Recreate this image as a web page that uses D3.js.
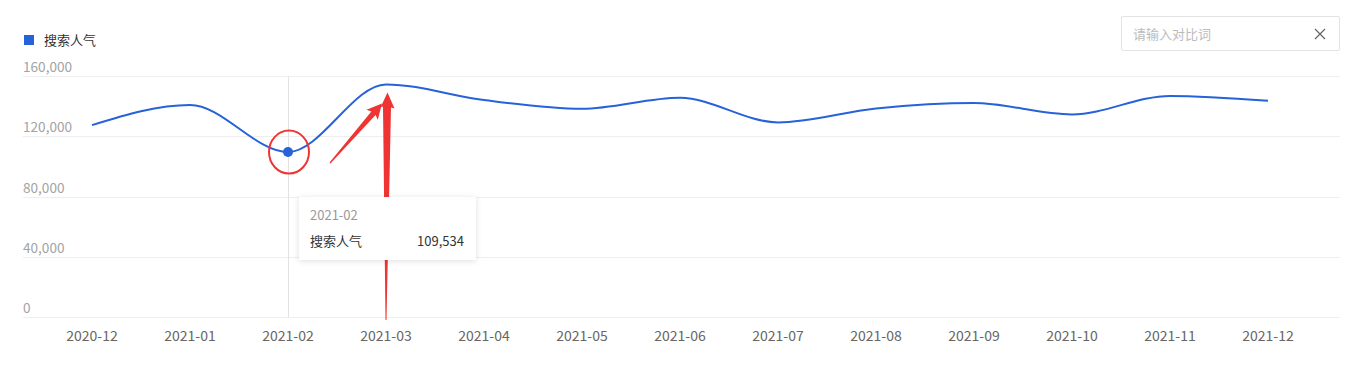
<!DOCTYPE html>
<html>
<head>
<meta charset="utf-8">
<script src="https://cdn.jsdelivr.net/npm/d3@7"></script>
<style>
  body { margin: 0; background: #fff; font-family: "Noto Sans CJK SC", "Noto Sans", sans-serif; }
  #chart { position: relative; width: 1345px; height: 371px; }
  .tip { position: absolute; background: #fff; box-shadow: 0 1px 6px rgba(0,0,0,0.13); font-size: 13px; }
  .search { position: absolute; border: 1px solid #e3e3e3; border-radius: 2px; background: #fff; box-sizing: border-box; font-size: 13px; color: #bbb; }
</style>
</head>
<body>
<div id="chart"></div>
<script>
var months = ["2020-12", "2021-01", "2021-02", "2021-03", "2021-04", "2021-05", "2021-06",
              "2021-07", "2021-08", "2021-09", "2021-10", "2021-11", "2021-12"];
var popularity = [127400, 140800, 109534, 154400, 144000, 138200, 145500,
                  129200, 138400, 142000, 134500, 146800, 143500];
var yTicks = [0, 40000, 80000, 120000, 160000];
var seriesName = "搜索人气";
var hoverIndex = 2;
var placeholder = "请输入对比词";

var W = 1345, H = 371;
var blue = "#2762d9", red = "#ef3434";

var x = d3.scalePoint().domain(months).range([92, 1268]);
var y = d3.scaleLinear().domain([0, 160000]).range([317, 76]);
var fmt = d3.format(",");

var root = d3.select("#chart");
var svg = root.append("svg").attr("width", W).attr("height", H);

// grid lines + y labels
var yg = svg.append("g");
yg.selectAll("line").data(yTicks).enter().append("line")
	.attr("x1", 23).attr("x2", 1340)
	.attr("y1", function(d) { return Math.round(y(d)) + 0.5; })
	.attr("y2", function(d) { return Math.round(y(d)) + 0.5; })
	.attr("stroke", "#eeeeee");
yg.selectAll("text").data(yTicks).enter().append("text")
	.attr("x", 23).attr("y", function(d) { return y(d) - 4; })
	.text(function(d) { return fmt(d); })
	.style("font-size", "13.6px").style("fill", "#a3a3a3");

// x axis labels
svg.append("g").selectAll("text").data(months).enter().append("text")
	.attr("x", function(d) { return x(d); }).attr("y", 341)
	.attr("text-anchor", "middle")
	.text(function(d) { return d; })
	.style("font-size", "14px").style("fill", "#666");

// hover crosshair
svg.append("line")
	.attr("x1", x(months[hoverIndex]) + 0.5).attr("x2", x(months[hoverIndex]) + 0.5)
	.attr("y1", y(160000)).attr("y2", y(0))
	.attr("stroke", "#e2e2e2");

// legend
svg.append("rect").attr("x", 24).attr("y", 35).attr("width", 10).attr("height", 10).attr("fill", blue);
svg.append("text").attr("x", 44).attr("y", 45).text(seriesName)
	.style("font-size", "13px").style("fill", "#333");

// line
var line = d3.line()
	.x(function(d, i) { return x(months[i]); })
	.y(function(d) { return y(d); })
	.curve(d3.curveMonotoneX);
svg.append("path").datum(popularity)
	.attr("d", line)
	.attr("fill", "none").attr("stroke", blue).attr("stroke-width", 2);

// hovered point
var px = x(months[hoverIndex]), py = y(popularity[hoverIndex]);
svg.append("circle").attr("cx", px).attr("cy", py).attr("r", 5).attr("fill", blue);

// red annotations
svg.append("ellipse").attr("cx", px + 1).attr("cy", py).attr("rx", 20).attr("ry", 21.5)
	.attr("fill", "none").attr("stroke", red).attr("stroke-width", 2);

var peakX = x(months[3]), peakY = y(popularity[3]);
var ann = svg.append("g").attr("fill", red);

// diagonal arrow, drawn along +x then rotated
var tail = [px + 42, py + 11], head = [peakX - 4, peakY + 19];
var len = Math.hypot(head[0] - tail[0], head[1] - tail[1]);
var ang = Math.atan2(head[1] - tail[1], head[0] - tail[0]) * 180 / Math.PI;
ann.append("path")
	.attr("transform", "translate(" + tail + ") rotate(" + ang + ")")
	.attr("d", [
		"M", 0, -0.6,
		"L", len - 13, -2.8,
		"L", len - 15, -7.5,
		"L", len, 0,
		"L", len - 15, 7.5,
		"L", len - 13, 2.8,
		"L", 0, 0.6, "Z"].join(" "));

// vertical arrow
ann.append("path").attr("d", [
	"M", peakX - 0.5, y(0) + 3,
	"L", peakX - 3, peakY + 22,
	"L", peakX - 5.5, peakY + 23,
	"L", peakX + 1.5, peakY + 8,
	"L", peakX + 8.5, peakY + 24,
	"L", peakX + 5, peakY + 23,
	"L", peakX + 0.5, y(0) + 3, "Z"].join(" "));

// tooltip
var tip = root.append("div").attr("class", "tip")
	.style("left", (px + 11) + "px").style("top", (py + 45) + "px")
	.style("width", "177px").style("height", "63px");
tip.append("div").text(months[hoverIndex])
	.style("position", "absolute").style("left", "11px").style("top", "8px").style("color", "#999");
tip.append("div").text(seriesName)
	.style("position", "absolute").style("left", "11px").style("top", "34px").style("color", "#333");
tip.append("div").text(fmt(popularity[hoverIndex]))
	.style("position", "absolute").style("right", "12px").style("top", "34px").style("color", "#333");

// compare input
var box = root.append("div").attr("class", "search")
	.style("left", "1121px").style("top", "16px").style("width", "219px").style("height", "35px");
box.append("div").text(placeholder)
	.style("position", "absolute").style("left", "11px").style("top", "7px");
var xs = box.append("svg").attr("width", 12).attr("height", 12)
	.style("position", "absolute").style("left", "192px").style("top", "11px");
xs.append("path").attr("d", "M1,1 L11,11 M11,1 L1,11").attr("stroke", "#666").attr("stroke-width", 1.3);
</script>
</body>
</html>
